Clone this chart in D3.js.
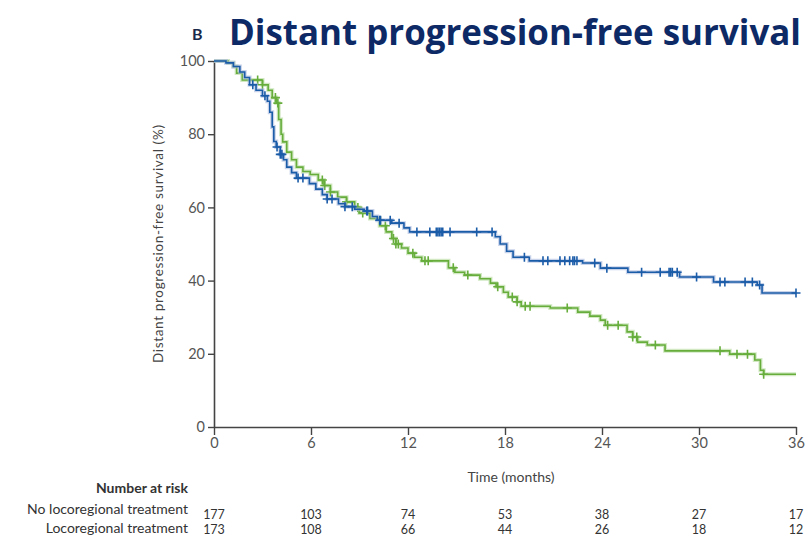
<!DOCTYPE html>
<html>
<head>
<meta charset="utf-8">
<script src="https://cdn.jsdelivr.net/npm/d3@7"></script>
<style>
  body { margin: 0; background: #fff; }
  svg { display: block; font-family: Lato, "Open Sans", sans-serif; }
</style>
</head>
<body>
<div id="chart"></div>
<script>
// step points (months, % free of distant progression)
var noLrtTimes = [0, 0.74, 1.2, 1.6, 1.9, 2.2, 2.6, 3.0, 3.3, 3.45, 3.6, 3.7, 3.85, 4.1, 4.3, 4.5, 4.8, 5.1, 5.9, 6.3, 6.7, 7.0, 7.7, 8.1, 8.7, 9.3, 9.8, 10.1, 11.0, 11.75, 12.1, 17.4, 17.7, 18.1, 18.5, 19.5, 22.8, 23.9, 25.6, 28.8, 30.9, 33.6, 33.9, 36];
var noLrtSurv  = [100, 99.5, 98.5, 97, 95.5, 93.5, 92, 90.5, 89, 86, 82, 78, 76.5, 74.5, 73, 71, 69.5, 68, 66.5, 65, 63.5, 62.3, 61, 60.2, 59.5, 59, 57.5, 56.5, 55.7, 54.4, 53.3, 52, 50, 48, 46.4, 45.4, 44.8, 43.4, 42.3, 41, 39.6, 38.8, 36.6, 36.6];
var noLrtCensor = [2.4, 3.15, 3.9, 4.1, 4.2, 5.2, 5.5, 7.0, 7.3, 8.1, 8.55, 9.45, 9.5, 10.25, 10.3, 10.9, 11.45, 12.55, 13.35, 13.75, 13.85, 13.95, 14.05, 14.15, 14.6, 16.25, 17.2, 19.2, 20.35, 20.65, 21.4, 21.7, 22.0, 22.2, 22.3, 22.45, 23.55, 24.3, 26.45, 27.6, 28.15, 28.25, 28.35, 28.65, 29.85, 31.3, 31.6, 32.85, 33.3, 33.75, 36];

var lrtTimes = [0, 0.87, 1.2, 1.4, 1.75, 3.0, 3.35, 3.6, 3.85, 4.0, 4.15, 4.25, 4.5, 4.8, 5.1, 5.5, 5.95, 6.45, 6.8, 7.2, 7.65, 8.2, 8.7, 9.0, 9.65, 10.25, 10.65, 11.0, 11.25, 11.6, 12.0, 12.4, 12.85, 14.5, 14.9, 15.5, 16.45, 17.1, 17.45, 17.9, 18.2, 18.75, 19.0, 20.8, 22.5, 23.25, 23.9, 24.2, 25.55, 25.9, 26.2, 26.8, 27.9, 31.9, 33.45, 33.8, 34.0, 36];
var lrtSurv  = [100, 99.5, 98.5, 96.7, 94.8, 93.5, 92, 90, 88.5, 84, 80, 77.9, 75.1, 73, 71, 69.8, 69, 67.5, 66, 64.2, 62.8, 61.5, 60, 58.5, 57, 55, 53.3, 51.5, 50, 48.9, 47.5, 46.4, 45.4, 43.5, 42.3, 41.5, 40.5, 39.3, 38.3, 36.8, 35.5, 34.2, 33, 32.5, 31.4, 30.3, 29.2, 27.8, 26, 24.6, 23.2, 22.4, 20.8, 19.9, 18.3, 15.5, 14.4, 14.4];
var lrtCensor = [2.7, 3.0, 3.8, 3.95, 6.7, 6.85, 7.2, 8.2, 8.9, 9.2, 10.6, 11.1, 11.25, 11.4, 12.3, 13.05, 13.25, 14.8, 15.7, 17.55, 18.45, 18.75, 19.25, 19.55, 21.85, 24.35, 25.0, 25.9, 26.15, 27.3, 31.3, 32.35, 33.0, 34.0];

// number at risk
var riskTimes = [0, 6, 12, 18, 24, 30, 36];
var riskNoLrt = [177, 103, 74, 53, 38, 27, 17];
var riskLrt   = [173, 108, 66, 44, 26, 18, 12];

var xTicks = [0, 6, 12, 18, 24, 30, 36];
var yTicks = [0, 20, 40, 60, 80, 100];

var W = 809, H = 537;
var margin = { left: 214, right: 13, top: 61, bottom: 110 };

var svg = d3.select("#chart").append("svg")
  .attr("width", W)
  .attr("height", H);

var x = d3.scaleLinear().domain([0, 36]).range([margin.left, W - margin.right]);
var y = d3.scaleLinear().domain([0, 100]).range([H - margin.bottom, margin.top]);

// title
svg.append("text")
  .attr("x", 192).attr("y", 40)
  .attr("font-size", 16).attr("font-weight", "bold")
  .attr("fill", "#1b2a4a")
  .text("B");
svg.append("text")
  .attr("x", 229).attr("y", 45)
  .attr("font-family", "'Open Sans', sans-serif")
  .attr("font-size", 35).attr("font-weight", "bold")
  .attr("fill", "#0e2a66")
  .attr("textLength", 572).attr("lengthAdjust", "spacingAndGlyphs")
  .text("Distant progression-free survival");

// axes
var xAxis = svg.append("g")
  .attr("transform", "translate(0," + y(0) + ")")
  .call(d3.axisBottom(x).tickValues(xTicks).tickSize(8).tickPadding(3).tickSizeOuter(0));
var yAxis = svg.append("g")
  .attr("transform", "translate(" + x(0) + ",0)")
  .call(d3.axisLeft(y).tickValues(yTicks).tickSize(6).tickPadding(3).tickSizeOuter(0));

[xAxis, yAxis].forEach(function(g) {
  g.select(".domain").attr("stroke", "#444").attr("stroke-width", 1.6);
  g.selectAll(".tick line").attr("stroke", "#444").attr("stroke-width", 1.4);
  g.selectAll(".tick text")
    .attr("font-family", "Lato, sans-serif")
    .attr("font-size", 14.5).attr("fill", "#555");
});

svg.append("text")
  .attr("transform", "translate(163," + y(50) + ") rotate(-90)")
  .attr("text-anchor", "middle")
  .attr("font-size", 13.5).attr("fill", "#444")
  .attr("textLength", 238).attr("lengthAdjust", "spacing")
  .text("Distant progression-free survival (%)");

svg.append("text")
  .attr("x", 511).attr("y", 482)
  .attr("text-anchor", "middle")
  .attr("font-size", 14).attr("fill", "#444")
  .text("Time (months)");

// curves
function stepAt(times, surv, t) {
  var i = d3.bisectRight(times, t) - 1;
  return surv[Math.max(0, i)];
}

var line = d3.line()
  .x(function(d) { return x(d[0]); })
  .y(function(d) { return y(d[1]); })
  .curve(d3.curveStepAfter);

function drawCurve(times, surv, censor, dark, light) {
  var pts = times.map(function(t, i) { return [t, surv[i]]; });
  var g = svg.append("g");
  g.append("path").datum(pts)
    .attr("d", line).attr("fill", "none")
    .attr("stroke", light).attr("stroke-width", 4).attr("stroke-opacity", 0.6);
  g.append("path").datum(pts)
    .attr("d", line).attr("fill", "none")
    .attr("stroke", dark).attr("stroke-width", 1.6);

  g.selectAll(".cens")
    .data(censor).enter()
    .append("path")
    .attr("d", function(t) {
      var cx = x(t), cy = y(stepAt(times, surv, t));
      return "M" + cx + "," + (cy - 4.5) + "V" + (cy + 4.5) +
             "M" + (cx - 4.5) + "," + cy + "H" + (cx + 4.5);
    })
    .attr("stroke", dark).attr("stroke-width", 1.6).attr("fill", "none");
}

drawCurve(lrtTimes, lrtSurv, lrtCensor, "#66ad3c", "#b3d89a");
drawCurve(noLrtTimes, noLrtSurv, noLrtCensor, "#1b5ca8", "#a3b4da");

// number at risk table
svg.append("text")
  .attr("x", 188).attr("y", 493)
  .attr("text-anchor", "end")
  .attr("font-size", 14).attr("font-weight", "bold").attr("fill", "#333")
  .text("Number at risk");

svg.append("text")
  .attr("x", 188).attr("y", 514)
  .attr("text-anchor", "end")
  .attr("font-size", 14).attr("fill", "#333")
  .text("No locoregional treatment");
svg.append("text")
  .attr("x", 188).attr("y", 533)
  .attr("text-anchor", "end")
  .attr("font-size", 14).attr("fill", "#333")
  .text("Locoregional treatment");

svg.append("g").selectAll("text")
  .data(riskNoLrt).enter()
  .append("text")
  .attr("x", function(d, i) { return x(riskTimes[i]); })
  .attr("y", 519)
  .attr("text-anchor", "middle")
  .attr("font-size", 12.5).attr("fill", "#333")
  .text(function(d) { return d; });

svg.append("g").selectAll("text")
  .data(riskLrt).enter()
  .append("text")
  .attr("x", function(d, i) { return x(riskTimes[i]); })
  .attr("y", 534)
  .attr("text-anchor", "middle")
  .attr("font-size", 12.5).attr("fill", "#333")
  .text(function(d) { return d; });
</script>
</body>
</html>
